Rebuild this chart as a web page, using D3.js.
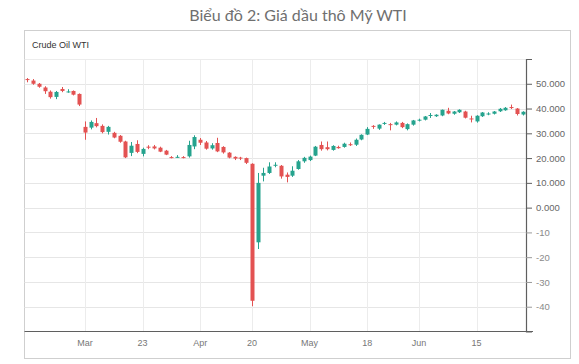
<!DOCTYPE html>
<html>
<head>
<meta charset="utf-8">
<script src="https://cdn.jsdelivr.net/npm/d3@7"></script>
<style>
  body { margin: 0; background: #ffffff; }
</style>
</head>
<body>
<script>
// Trading days shown on the chart (Good Friday and Memorial Day are missing)
var trade_dates = [
    "2020-02-24","2020-02-25","2020-02-26","2020-02-27","2020-02-28",
    "2020-03-02","2020-03-03","2020-03-04","2020-03-05","2020-03-06","2020-03-09","2020-03-10","2020-03-11",
    "2020-03-12","2020-03-13","2020-03-16","2020-03-17","2020-03-18","2020-03-19","2020-03-20","2020-03-23",
    "2020-03-24","2020-03-25","2020-03-26","2020-03-27","2020-03-30","2020-03-31",
    "2020-04-01","2020-04-02","2020-04-03","2020-04-06","2020-04-07","2020-04-08","2020-04-09","2020-04-13",
    "2020-04-14","2020-04-15","2020-04-16","2020-04-17","2020-04-20","2020-04-21","2020-04-22","2020-04-23",
    "2020-04-24","2020-04-27","2020-04-28","2020-04-29","2020-04-30",
    "2020-05-01","2020-05-04","2020-05-05","2020-05-06","2020-05-07","2020-05-08","2020-05-11","2020-05-12",
    "2020-05-13","2020-05-14","2020-05-15","2020-05-18","2020-05-19","2020-05-20","2020-05-21","2020-05-22",
    "2020-05-26","2020-05-27","2020-05-28","2020-05-29",
    "2020-06-01","2020-06-02","2020-06-03","2020-06-04","2020-06-05","2020-06-08","2020-06-09","2020-06-10",
    "2020-06-11","2020-06-12","2020-06-15","2020-06-16","2020-06-17","2020-06-18","2020-06-19","2020-06-22",
    "2020-06-23","2020-06-24","2020-06-25"
];

var open_values = [
    51.9, 51.3, 50.0, 48.5, 46.8,
    44.7, 47.9, 46.7, 47.1, 45.9, 32.6, 32.3, 34.1, 33.0, 30.6, 30.2, 29.0, 26.7, 22.1, 25.7, 21.7,
    24.6, 24.7, 24.2, 23.0, 20.4, 20.3,
    20.4, 20.7, 24.7, 27.4, 26.3, 23.9, 26.1, 24.5, 22.2, 20.5, 20.2, 20.0, 17.7, -14.0, 12.9, 14.0,
    17.1, 16.9, 13.3, 12.9, 15.6,
    18.7, 19.2, 21.0, 25.3, 24.4, 23.3, 24.5, 24.5, 25.6, 25.4, 27.5, 29.5, 33.0, 31.9, 34.0, 33.7,
    33.5, 34.2, 31.7, 33.5,
    35.3, 35.5, 37.3, 36.9, 37.2, 39.1, 37.9, 38.5, 38.8, 36.0, 34.8, 36.9, 37.8, 37.9, 38.9, 39.3,
    40.6, 40.0, 37.6
];
var high_values = [
    52.3, 51.9, 50.3, 49.0, 47.3,
    47.1, 48.7, 47.8, 47.3, 46.1, 34.8, 35.2, 36.2, 33.6, 33.0, 30.6, 29.3, 27.0, 26.5, 27.2, 24.2,
    25.2, 25.3, 24.6, 23.3, 20.8, 21.2,
    20.8, 27.0, 29.2, 28.1, 26.9, 26.0, 28.2, 24.8, 22.4, 20.7, 20.5, 20.2, 17.9, 14.0, 16.1, 18.3,
    18.3, 17.2, 14.2, 16.7, 19.2,
    20.5, 21.0, 24.9, 26.7, 26.7, 25.2, 25.0, 26.2, 26.3, 27.9, 29.6, 32.5, 33.3, 33.6, 34.6, 34.2,
    34.8, 34.6, 34.0, 35.4,
    35.9, 37.0, 38.2, 37.7, 39.6, 40.3, 39.0, 39.7, 39.1, 37.1, 37.3, 38.6, 38.5, 39.0, 40.2, 40.6,
    41.6, 40.2, 38.9
];
var low_values = [
    50.6, 49.6, 48.4, 45.9, 44.0,
    43.8, 46.6, 46.4, 45.3, 41.0, 27.4, 31.6, 32.4, 30.0, 29.5, 28.0, 26.2, 20.0, 20.8, 22.0, 20.7,
    23.6, 23.5, 22.4, 21.2, 19.9, 20.1,
    19.9, 20.2, 23.6, 25.3, 23.4, 23.4, 22.4, 21.8, 19.9, 19.2, 19.2, 17.6, -39.8, -16.7, 10.6, 13.6,
    16.3, 11.7, 10.2, 12.4, 15.3,
    18.1, 18.8, 20.8, 23.0, 23.1, 23.0, 23.8, 24.2, 24.9, 24.9, 27.2, 29.3, 31.8, 31.4, 33.4, 31.2,
    33.2, 32.1, 31.2, 33.1,
    34.8, 35.2, 36.2, 36.6, 36.9, 37.7, 37.5, 38.2, 36.0, 34.4, 34.3, 36.6, 37.3, 37.6, 38.6, 39.1,
    39.8, 37.2, 37.2
];
var close_values = [
    51.6, 50.0, 48.8, 47.0, 44.6,
    46.7, 47.1, 46.9, 45.6, 41.6, 30.3, 34.6, 32.9, 30.5, 32.6, 28.3, 26.6, 20.3, 25.0, 22.5, 23.7,
    24.2, 23.9, 22.6, 21.4, 20.2, 20.5,
    20.2, 25.3, 28.5, 26.2, 23.8, 25.2, 22.7, 22.3, 20.2, 19.8, 19.9, 18.1, -37.6, 10.0, 14.0, 16.6,
    17.3, 12.6, 12.4, 14.9, 18.7,
    20.1, 20.6, 24.6, 23.6, 23.6, 24.9, 24.0, 25.8, 25.3, 27.4, 29.4, 31.8, 32.6, 33.5, 34.2, 33.3,
    34.4, 32.5, 33.7, 35.2,
    35.5, 36.8, 37.4, 37.5, 39.5, 38.0, 38.8, 39.5, 36.3, 35.8, 37.1, 38.4, 38.0, 38.8, 39.9, 40.3,
    40.4, 37.8, 38.7
];

// Axis ticks
var x_tick_dates = ["2020-03-09","2020-03-23","2020-04-06","2020-04-20","2020-05-04","2020-05-18","2020-06-01","2020-06-15"];
var x_tick_labels = ["Mar","23","Apr","20","May","18","Jun","15"];
var y_tick_values = [50, 40, 30, 20, 10, 0, -10, -20, -30, -40];
var y_domain = [-50, 60];

var up_color = "#26a38e";
var down_color = "#e35252";

var svg = d3.select("body").append("svg")
    .attr("width", 579)
    .attr("height", 364)
    .style("display", "block");

svg.append("rect").attr("width", 579).attr("height", 364).attr("fill", "#ffffff");

// Main heading above the panel
svg.append("text")
    .attr("x", 298)
    .attr("y", 21)
    .attr("text-anchor", "middle")
    .style("font-family", "Lato, 'Open Sans', sans-serif")
    .style("font-size", "16px")
    .style("fill", "#6f6f6f")
    .text("Biểu đồ 2: Giá dầu thô Mỹ WTI");

// Panel border
svg.append("rect")
    .attr("x", 24.5).attr("y", 30.5)
    .attr("width", 546).attr("height", 328)
    .attr("fill", "none")
    .attr("stroke", "#cfcfcf");

svg.append("text")
    .attr("x", 32)
    .attr("y", 48)
    .style("font-family", "'Liberation Sans', Arial, sans-serif")
    .style("font-size", "9px")
    .style("fill", "#333333")
    .text("Crude Oil WTI");

// Plot area
var plot_left = 24.5, plot_right = 526, plot_top = 59, plot_bottom = 331.5;

var x_scale = d3.scaleBand()
    .domain(trade_dates)
    .range([plot_left, 525.5])
    .paddingInner(0.3)
    .paddingOuter(0.15);

var y_scale = d3.scaleLinear()
    .domain(y_domain)
    .range([plot_bottom, plot_top]);

var x_center = function (d) { return x_scale(d) + x_scale.bandwidth() / 2; };

// top border of plot
svg.append("line")
    .attr("x1", plot_left).attr("x2", plot_right)
    .attr("y1", plot_top + 0.5).attr("y2", plot_top + 0.5)
    .attr("stroke", "#ececec");

// Gridlines
svg.append("g").selectAll("line")
    .data(y_tick_values)
    .enter().append("line")
    .attr("x1", plot_left).attr("x2", plot_right)
    .attr("y1", function (d) { return Math.round(y_scale(d)) + 0.5; })
    .attr("y2", function (d) { return Math.round(y_scale(d)) + 0.5; })
    .attr("stroke", "#e6e6e6");

svg.append("g").selectAll("line")
    .data(x_tick_dates)
    .enter().append("line")
    .attr("x1", function (d) { return Math.round(x_center(d)) + 0.5; })
    .attr("x2", function (d) { return Math.round(x_center(d)) + 0.5; })
    .attr("y1", plot_top).attr("y2", plot_bottom)
    .attr("stroke", "#ececec");

// Candles
var candle_data = trade_dates.map(function (d, i) {
    return { date: d, open: open_values[i], high: high_values[i], low: low_values[i], close: close_values[i] };
});

var candles = svg.append("g").selectAll(".candle")
    .data(candle_data)
    .enter().append("g")
    .attr("class", "candle");

candles.append("line")
    .attr("x1", function (d) { return Math.round(x_center(d.date)) + 0.5; })
    .attr("x2", function (d) { return Math.round(x_center(d.date)) + 0.5; })
    .attr("y1", function (d) { return y_scale(d.high); })
    .attr("y2", function (d) { return y_scale(d.low); })
    .attr("stroke", function (d) { return d.close >= d.open ? up_color : down_color; })
    .attr("stroke-width", 1);

candles.append("rect")
    .attr("x", function (d) { return Math.round(x_center(d.date)) + 0.5 - 2; })
    .attr("width", 4)
    .attr("y", function (d) { return y_scale(Math.max(d.open, d.close)); })
    .attr("height", function (d) { return Math.max(1, Math.abs(y_scale(d.open) - y_scale(d.close))); })
    .attr("fill", function (d) { return d.close >= d.open ? up_color : down_color; });

// Y axis on the right
var y_axis = d3.axisRight(y_scale)
    .tickValues(y_tick_values)
    .tickSize(6)
    .tickSizeOuter(6)
    .tickFormat(function (d) { return d >= 0 ? d.toFixed(3) : String(d); });

var y_axis_g = svg.append("g")
    .attr("transform", "translate(" + plot_right + ",0)")
    .call(y_axis);

y_axis_g.select(".domain").attr("stroke", "#5f5f5f").attr("stroke-width", 1.2);
y_axis_g.selectAll(".tick line")
    .attr("stroke", function (d) { return d >= 0 ? "#5f5f5f" : "#9a9a9a"; });
y_axis_g.selectAll(".tick text")
    .attr("x", 10)
    .style("font-family", "'Liberation Sans', Arial, sans-serif")
    .style("font-size", "9.5px")
    .style("fill", function (d) { return d >= 0 ? "#666666" : "#8a8a8a"; });

// X axis line and labels
svg.append("line")
    .attr("x1", plot_left).attr("x2", 533)
    .attr("y1", plot_bottom).attr("y2", plot_bottom)
    .attr("stroke", "#5f5f5f");

svg.append("g").selectAll("text")
    .data(x_tick_dates)
    .enter().append("text")
    .attr("x", function (d) { return x_center(d); })
    .attr("y", 346)
    .attr("text-anchor", "middle")
    .style("font-family", "'Liberation Sans', Arial, sans-serif")
    .style("font-size", "9px")
    .style("fill", "#777777")
    .text(function (d, i) { return x_tick_labels[i]; });
</script>
</body>
</html>
